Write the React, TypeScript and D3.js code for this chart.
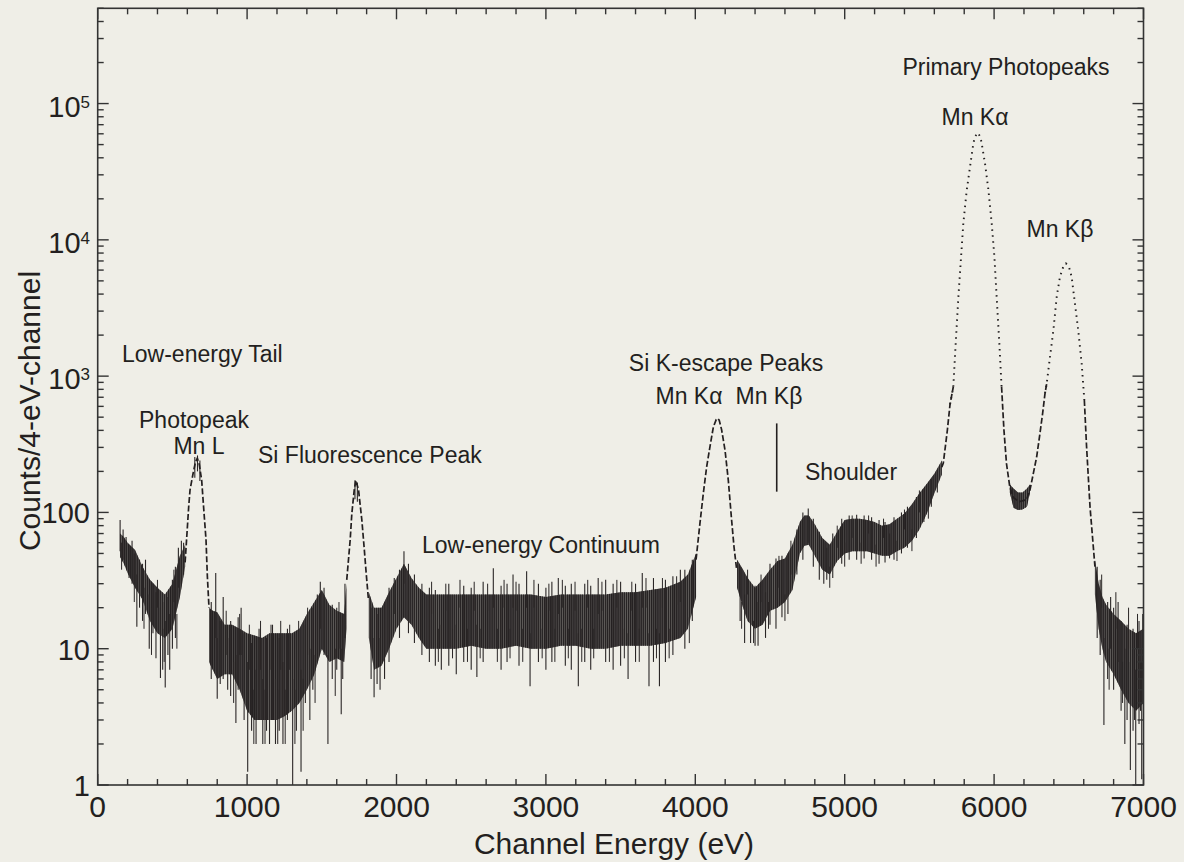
import * as d3 from 'd3';

const W = 1184;
const H = 862;
const M = { left: 97.7, right: 1143.5, top: 8.3, bottom: 785 };
const INK = '#231f20';
const FONT = '"Liberation Sans", Arial, Helvetica, sans-serif';

// noisy part of the spectrum: channel scatter envelope per energy (eV); null marks a gap at a peak
const bandE = [
  150, 175, 200, 250, 300, 350, 400, 450, 500, 550, 585,
  660,
  745, 770, 800, 850, 900, 950, 1000, 1050, 1100, 1150, 1200, 1250, 1300, 1350, 1400, 1450, 1500, 1550, 1600, 1650, 1665,
  1740,
  1815, 1850, 1900, 1950, 2000, 2050, 2100, 2150, 2200, 2300, 2400, 2500, 2600, 2700, 2800, 2900, 3000, 3100, 3200, 3300,
  3400, 3500, 3600, 3700, 3800, 3900, 3950, 4005,
  4150,
  4280, 4320, 4350, 4400, 4450, 4500, 4550, 4600, 4650, 4700, 4730, 4760, 4800, 4850, 4900, 4950, 5000, 5050, 5100, 5150,
  5200, 5250, 5300, 5350, 5400, 5450, 5500, 5550, 5600, 5650,
  5900,
  6105, 6130, 6160, 6190, 6220, 6240,
  6450,
  6675, 6700, 6725, 6750, 6800, 6850, 6900, 6950, 7000,
];
const bandLo = [
  47, 42, 36, 28, 23, 16, 13, 12, 14, 24, 40,
  null,
  8, 7, 6, 6.5, 6.5, 5, 3.5, 3, 3, 3, 3, 3.2, 3.5, 4, 5, 6.5, 10, 8, 8.5, 8, 14,
  null,
  12, 7, 7.5, 10, 14, 17, 15, 12, 10, 10, 10, 10.5, 10, 10, 10.5, 10, 10, 10.5, 10.5, 10,
  10, 10.5, 10.5, 10.5, 11, 12, 14, 24,
  null,
  28, 20, 16, 14, 15, 19, 20, 22, 27, 50, 57, 58, 48, 38, 35, 44, 50, 52, 52, 52,
  50, 48, 48, 52, 55, 62, 75, 98, 138, 190,
  null,
  140, 108, 104, 105, 110, 140,
  null,
  25, 14, 10, 8, 6.5, 5, 4, 3.5, 4,
];
const bandHi = [
  70, 66, 60, 53, 40, 32, 28, 25, 30, 48, 58,
  null,
  20, 19, 18.5, 15, 15, 14, 13, 12.5, 12, 13, 13, 13, 13, 14, 18, 22, 27, 21, 19, 18, 30,
  null,
  26, 20, 20, 26, 33, 42, 33, 28, 25, 25, 25, 25, 25, 25, 25, 25, 24, 25, 25, 25,
  25, 26, 26, 27, 28, 31, 35, 50,
  null,
  45, 38, 33, 28, 32, 38, 44, 46, 58, 85, 95, 95, 82, 65, 58, 72, 88, 90, 90, 88,
  85, 80, 82, 90, 98, 115, 138, 162, 192, 240,
  null,
  160, 150, 140, 140, 150, 160,
  null,
  45, 30, 24, 21, 18, 16, 14, 13, 14,
];

// peak profiles (counts), null = gap
const peakE = [
  585, 596, 609, 618, 641, 655, 667, 680, 696, 712, 725, 734, 745,
  1200,
  1667, 1690, 1701, 1717, 1728, 1746, 1768, 1783, 1797, 1812,
  3000,
  4005, 4031, 4054, 4076, 4098, 4121, 4140, 4150, 4160, 4176, 4199, 4221, 4243, 4259, 4277,
  5000,
  5650, 5660, 5687, 5705, 5727, 5743, 5761, 5779, 5794, 5817, 5839, 5861, 5872, 5890, 5908, 5917, 5939, 5962, 5984, 6002,
  6017, 6035, 6050, 6066, 6083, 6105, 6130, 6170, 6217, 6240, 6263, 6285, 6307, 6325, 6341, 6352, 6374, 6397, 6419, 6441,
  6463, 6481, 6501, 6519, 6541, 6563, 6586, 6604, 6619, 6642, 6664, 6675,
];
const peakV = [
  43, 66, 110, 146, 200, 235, 250, 225, 172, 98, 63, 34, 20,
  null,
  32, 63, 98, 146, 172, 146, 88, 56, 36, 23,
  null,
  45, 83, 139, 216, 303, 424, 480, 490, 475, 405, 286, 172, 88, 56, 38,
  null,
  215, 230, 400, 620, 836, 1740, 3820, 7520, 13200, 23200, 34400, 51000, 57000, 61000, 57000, 51000, 36400, 23200, 13200, 7520,
  3820, 1740, 836, 400, 228, 154, 128, 120, 124, 146, 194, 256, 380, 535, 750, 880, 1380, 2180, 3820, 5360,
  6350, 6720, 6350, 5360, 3420, 2180, 1240, 668, 303, 110, 56, 40,
];

// single channels that stick well out of the scatter band (eV, low, high)
const spikeE = [
  150, 170, 190, 210, 230, 262, 280, 300, 320, 345, 370, 390, 420, 435, 452, 470, 482, 500, 520, 540, 560, 575,
  650, 668, 684,
  760, 790, 800, 820, 840, 870, 890, 925, 940, 960, 980, 1004, 1030, 1060, 1080, 1105, 1130, 1150, 1170, 1190,
  1215, 1240, 1270, 1305, 1330, 1361, 1390, 1420, 1440, 1470, 1490, 1515, 1541, 1570, 1600, 1630, 1640, 1655,
  1722, 1738,
  1830, 1850, 1870, 1890, 1920, 1950, 1985, 2020, 2050, 2080, 2120, 2170, 2220, 2260, 2300, 2350, 2400, 2450, 2500, 2538,
  2580, 2648, 2700, 2740, 2780, 2820, 2871, 2894, 2950, 3000, 3040, 3083, 3130, 3170, 3217, 3260, 3300, 3350, 3400, 3450,
  3500, 3550, 3600, 3645, 3690, 3720, 3760, 3800, 3850, 3900, 3930, 3980,
  4300, 4330, 4370, 4400, 4420, 4470, 4500, 4540, 4580, 4620, 4680, 4720, 4756, 4790, 4830, 4860, 4880, 4920, 4980, 5030,
  5080, 5130, 5180, 5230, 5270, 5300, 5330, 5380, 5420, 5480, 5530, 5580, 5620,
  6690, 6710, 6735, 6760, 6780, 6800, 6830, 6850, 6875, 6890, 6912, 6930, 6948, 6970, 6988, 6995,
];
const spikeLo = [
  52, 45, 40, 33, 30, 14.5, 20, 16, 18, 10, 13, 8.5, 6.1, 7, 5.2, 9, 7, 10, 12, 28, 30, 35,
  180, 200, 170,
  6, 12, 4.3, 5.5, 6, 5, 4.5, 2.85, 5, 9, 3, 1.25, 2.5, 2, 3, 2, 2.5, 2, 3, 2,
  2.5, 2, 3, 1, 2.5, 1.25, 4, 3, 5, 8, 14, 9, 2, 6, 7, 3.3, 6, 12,
  125, 120,
  6, 4.4, 5.5, 5, 6, 8, 18, 12, 30, 13, 11, 9, 8, 7.5, 7, 7.5, 6.5, 8, 7, 6.2,
  8, 20, 7, 8, 20, 7.5, 20, 5.3, 8, 7, 8, 18, 7.5, 7, 5.3, 8, 7, 18, 8, 7,
  7.5, 6, 8, 20, 5.3, 8, 5.3, 8, 9, 22, 10, 16,
  16, 11, 11, 10.5, 10.5, 12, 15, 14, 17, 18, 35, 45, 60, 40, 32, 30, 32, 33, 42, 45,
  45, 46, 45, 42, 43, 46, 45, 50, 55, 65, 85, 110, 140,
  12, 9, 2.75, 6, 10, 5, 8, 3.5, 2, 3, 1.29, 2.5, 1, 2.8, 1.1, 6,
];
const spikeHi = [
  88, 75, 66, 58, 62, 35, 45, 42, 45, 25, 30, 26, 20, 22, 16, 24, 18, 32, 40, 55, 62, 60,
  255, 262, 240,
  22, 36, 12, 16, 24, 12, 16, 9, 17, 20, 13, 8, 11, 7, 14, 6, 12, 7, 15, 6,
  12, 8, 14, 6, 13, 7, 15, 10, 20, 25, 31, 28, 9, 21, 20, 10, 18, 30,
  172, 165,
  20, 12, 18, 12, 22, 28, 33, 38, 52, 42, 35, 30, 28, 27, 15, 30, 15, 29, 28, 15,
  31, 39, 29, 30, 35, 30, 37, 13, 30, 28, 31, 33, 29, 30, 13, 30, 29, 33, 32, 30,
  31, 13, 30, 36, 13, 33, 13, 32, 34, 38, 38, 45,
  40, 25, 30, 29, 22, 26, 42, 46, 48, 50, 75, 100, 107, 90, 72, 60, 55, 70, 90, 95,
  96, 95, 92, 88, 85, 70, 92, 100, 110, 130, 150, 175, 205,
  40, 32, 12, 22, 24, 20, 22, 16, 10, 15, 8, 14, 7, 16, 8, 18,
];

// smaller channel excursions along the band edges (eV, low, high)
const jitterE = [
  160, 245, 310, 360, 400, 445, 510, 530,
  860, 910, 950, 1015, 1045, 1090, 1120, 1160, 1205, 1225, 1255, 1285, 1320, 1345, 1375, 1405, 1455, 1590, 1615,
  2235, 2280, 2330, 2375, 2425, 2475, 2520, 2560, 2610, 2675, 2720, 2760, 2800, 2845, 2920, 2975, 3020, 3060, 3110, 3150,
  3195, 3240, 3280, 3320, 3375, 3425, 3475, 3525, 3575, 3625, 3670, 3740, 3780, 3825, 3875, 3960,
  4310, 4350, 4390, 4440, 4490, 4560, 4600, 4640, 4900, 4950, 5000, 5050, 5110, 5160, 5210, 5260, 5350, 5400, 5450, 5500,
  5560,
  6720, 6770, 6815, 6860, 6900, 6940, 6960, 6980,
];
const jitterLo = [
  38, 22, 14, 9, 20, 8, 22, 10,
  9, 4, 9, 7, 2, 7, 2, 7, 2, 7, 2, 7, 2, 7, 2.5, 9, 4, 4.5, 10,
  18, 8, 19, 8.5, 20, 8, 19, 8.5, 19, 8, 20, 8.5, 19, 8, 20, 8.5, 19, 8, 20, 8.5,
  19, 8, 20, 8.5, 19, 8, 20, 8.5, 19, 8, 20, 8.5, 20, 8.5, 21, 11,
  14, 25, 11, 22, 14, 28, 16, 35, 28, 55, 40, 65, 42, 70, 40, 65, 44, 75, 52, 100,
  90,
  20, 5, 14, 4, 10, 3, 10, 3.5,
];
const jitterHi = [
  60, 50, 28, 20, 32, 14, 38, 18,
  19, 8, 18, 15, 5, 16, 5, 15, 5, 16, 5, 15, 5, 16, 6, 20, 9, 10, 22,
  31, 14, 30, 14, 32, 14, 31, 14, 30, 14, 32, 14, 31, 14, 32, 14, 30, 14, 32, 14,
  31, 14, 32, 14, 31, 14, 32, 14, 31, 14, 33, 14, 33, 14, 34, 17,
  22, 38, 16, 35, 22, 48, 25, 62, 40, 80, 60, 95, 60, 95, 58, 90, 62, 105, 75, 145,
  120,
  35, 10, 26, 8, 20, 7, 18, 8,
];

const xMajor = [0, 1000, 2000, 3000, 4000, 5000, 6000, 7000];
const yDecades = [1, 10, 100, 1000, 10000, 100000];
const yBase = ['1', '10', '100', '10', '10', '10'];
const yExp = ['', '', '', '3', '4', '5'];

const notes = [
  { t: 'Primary Photopeaks', x: 1006, y: 75, a: 'middle' },
  { t: 'Mn K\u03b1', x: 975, y: 125, a: 'middle' },
  { t: 'Mn K\u03b2', x: 1060, y: 237, a: 'middle' },
  { t: 'Low-energy Tail', x: 122, y: 362, a: 'start' },
  { t: 'Photopeak', x: 194, y: 428, a: 'middle' },
  { t: 'Mn L', x: 199, y: 454, a: 'middle' },
  { t: 'Si Fluorescence Peak', x: 258, y: 463, a: 'start' },
  { t: 'Low-energy Continuum', x: 422, y: 553, a: 'start' },
  { t: 'Si K-escape Peaks', x: 726, y: 371, a: 'middle' },
  { t: 'Mn K\u03b1', x: 689, y: 404, a: 'middle' },
  { t: 'Mn K\u03b2', x: 769, y: 404, a: 'middle' },
  { t: 'Shoulder', x: 805, y: 480, a: 'start' },
];

export default function App() {
  const x = d3.scaleLinear().domain([0, 7000]).range([M.left, M.right]);
  const y = d3.scaleLog().domain([1, 5e5]).range([M.bottom, M.top]);

  const band = bandE.map((e, i) => ({ e, lo: bandLo[i], hi: bandHi[i] }));
  const peaks = peakE.map((e, i) => ({ e, v: peakV[i] }));

  const area = d3
    .area<any>()
    .defined((d) => d.lo != null)
    .x((d) => x(d.e))
    .y0((d) => y(d.lo))
    .y1((d) => y(d.hi));

  // high part of the photopeaks prints dotted, the rest dashed
  const highLine = d3
    .line<any>()
    .defined((d) => d.v != null && d.v >= 600)
    .x((d) => x(d.e))
    .y((d) => y(d.v));
  const lowLine = d3
    .line<any>()
    .defined((d) => d.v != null && d.v <= 900)
    .x((d) => x(d.e))
    .y((d) => y(d.v));

  const xMinor = d3.range(0, 7001, 200).filter((v) => v % 1000 !== 0);
  const yMinor: number[] = [];
  yDecades.forEach((d) => {
    for (let k = 2; k <= 9; k++) if (d * k <= 5e5) yMinor.push(d * k);
  });

  const tickStroke = { stroke: '#333', strokeWidth: 1.4 };
  const bandPath = area(band) ?? '';

  return (
    <svg width={W} height={H} style={{ position: 'absolute', left: 0, top: 0 }} fontFamily={FONT}>
      <defs>
        <pattern id="chan" width={2.1} height={10} patternUnits="userSpaceOnUse">
          <rect width={1.3} height={10} fill={INK} />
        </pattern>
      </defs>
      <rect width={W} height={H} fill="#efeee7" />

      {/* spectrum */}
      <path d={bandPath} fill={INK} fillOpacity={0.7} />
      <path d={bandPath} fill="url(#chan)" />
      {spikeE.map((e, i) => (
        <line
          key={'s' + i}
          x1={x(e)}
          x2={x(e)}
          y1={y(spikeLo[i])}
          y2={y(spikeHi[i])}
          stroke="#2a2626"
          strokeWidth={1.1}
        />
      ))}
      {jitterE.map((e, i) => (
        <line
          key={'j' + i}
          x1={x(e)}
          x2={x(e)}
          y1={y(jitterLo[i])}
          y2={y(jitterHi[i])}
          stroke="#2a2626"
          strokeWidth={1}
        />
      ))}
      <path d={lowLine(peaks) ?? ''} fill="none" stroke={INK} strokeWidth={1.7} strokeDasharray="6,2.5" />
      <path d={highLine(peaks) ?? ''} fill="none" stroke={INK} strokeWidth={1.9} strokeDasharray="1.5,4.5" />

      {/* escape Kβ marker */}
      <line x1={x(4545)} x2={x(4545)} y1={y(450)} y2={y(142)} stroke={INK} strokeWidth={1.6} />

      {/* frame and ticks */}
      <rect
        x={M.left}
        y={M.top}
        width={M.right - M.left}
        height={M.bottom - M.top}
        fill="none"
        stroke="#333"
        strokeWidth={1.6}
      />
      {xMajor.map((v) => (
        <g key={'xM' + v}>
          <line x1={x(v)} x2={x(v)} y1={M.bottom} y2={M.bottom - 11} {...tickStroke} />
          <line x1={x(v)} x2={x(v)} y1={M.top} y2={M.top + 11} {...tickStroke} />
          <text x={x(v)} y={817} textAnchor="middle" fontSize={30} fill={INK}>
            {v}
          </text>
        </g>
      ))}
      {xMinor.map((v) => (
        <g key={'xm' + v}>
          <line x1={x(v)} x2={x(v)} y1={M.bottom} y2={M.bottom - 6} {...tickStroke} />
          <line x1={x(v)} x2={x(v)} y1={M.top} y2={M.top + 6} {...tickStroke} />
        </g>
      ))}
      {yDecades.map((v, i) => (
        <g key={'yM' + v}>
          <line x1={M.left} x2={M.left + 11} y1={y(v)} y2={y(v)} {...tickStroke} />
          <line x1={M.right} x2={M.right - 11} y1={y(v)} y2={y(v)} {...tickStroke} />
          <text x={90} y={y(v) + (yExp[i] ? 13 : 11)} textAnchor="end" fontSize={29} fill={INK}>
            {yBase[i]}
            {yExp[i] && (
              <tspan dy={-9} fontSize={17}>
                {yExp[i]}
              </tspan>
            )}
          </text>
        </g>
      ))}
      {yMinor.map((v) => (
        <g key={'ym' + v}>
          <line x1={M.left} x2={M.left + 6} y1={y(v)} y2={y(v)} {...tickStroke} />
          <line x1={M.right} x2={M.right - 6} y1={y(v)} y2={y(v)} {...tickStroke} />
        </g>
      ))}

      {/* axis titles */}
      <text x={614} y={854} textAnchor="middle" fontSize={30} fill={INK}>
        Channel Energy (eV)
      </text>
      <text transform="translate(40,411) rotate(-90)" textAnchor="middle" fontSize={30} fill={INK}>
        Counts/4-eV-channel
      </text>

      {/* annotations */}
      {notes.map((n, i) => (
        <text key={'n' + i} x={n.x} y={n.y} textAnchor={n.a} fontSize={23} fill={INK}>
          {n.t}
        </text>
      ))}
    </svg>
  );
}
